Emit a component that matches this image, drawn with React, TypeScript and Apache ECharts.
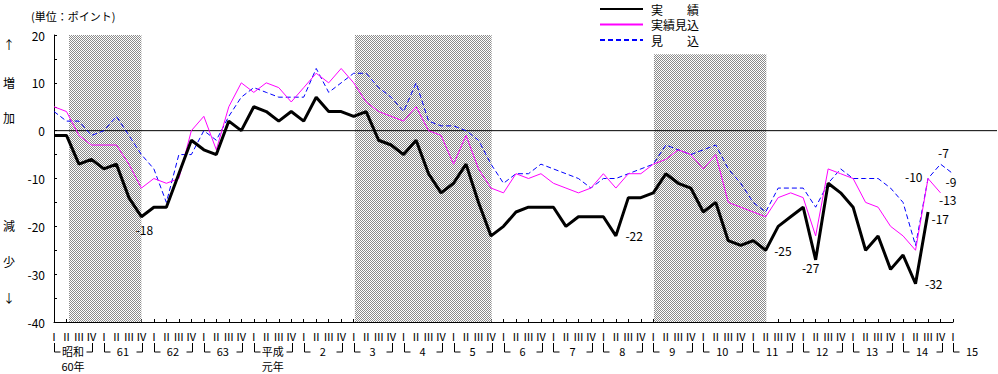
import React, { useEffect, useRef } from 'react';
import * as echarts from 'echarts';

const FONT = '"Noto Sans CJK JP", "Noto Sans", sans-serif';

// Quarter labels and year labels (昭和60年Q1 .. 平成15年Q1)
const QUARTER_LABELS = ['Ⅰ', 'Ⅱ', 'Ⅲ', 'Ⅳ'];
const YEAR_NAMES = ['昭和', '61', '62', '63', '平成', '2', '3', '4', '5', '6', '7', '8', '9', '10', '11', '12', '13', '14', '15'];
const YEAR_SUBS = ['60年', '', '', '', '元年'];
const SERIES_NAMES = ['実　　績', '実績見込', '見　　込'];

// 実績 (index 0 = 昭和60年Ⅰ期)
const ACTUAL = [
  -1, -1, -7, -6, -8, -7, -14, -18,
  -16, -16, -9, -2, -4, -5, 2, 0,
  5, 4, 2, 4, 2, 7, 4, 4,
  3, 4, -2, -3, -5, -2, -9, -13,
  -11, -7, -15, -22, -20, -17, -16, -16,
  -16, -20, -18, -18, -18, -22, -14, -14,
  -13, -9, -11, -12, -17, -15, -23, -24,
  -23, -25, -20, -18, -16, -27, -11, -13,
  -16, -25, -22, -29, -26, -32, -17,
];

// 実績見込
const ESTIMATE = [
  5, 4, -1, -3, -3, -3, -7, -12,
  -10, -11, -10, 0, 3, -4, 5, 10,
  8, 10, 9, 6, 9, 12, 10, 13,
  10, 6, 4, 3, 2, 5, 0, -1,
  -7, -1, -8, -12, -13, -9, -10, -9,
  -11, -12, -13, -12, -9, -12, -9, -9,
  -7, -6, -4, -5, -8, -5, -15, -16,
  -17, -18, -14, -13, -14, -22, -8, -9,
  -10, -15, -16, -20, -22, -25, -10, -13,
];

// 見込
const FORECAST = [
  4, 2, 2, -1, 0, 3, -1, -5,
  -8, -15, -5, -5, 0, -2, 3, 7,
  9, 8, 7, 7, 7, 13, 8, 10,
  12, 12, 9, 7, 4, 10, 2, 1,
  1, 0, -2, -7, -11, -9, -9, -7,
  -8, -9, -10, -12, -10, -10, -9, -8,
  -7, -3, -4, -5, -4, -3, -8, -11,
  -15, -17, -12, -12, -12, -16, -11, -8,
  -10, -10, -10, -12, -15, -24, -10, -7,
  -9,
];

const Y_MIN = -40;
const Y_MAX = 20;
const Y_STEP = 5;
const X_MAX = 72;

// shaded periods: [start index, end index, top value]
const SHADED = [
  [1.2, 7, 20],
  [24.1, 35.05, 20],
  [48.05, 57.05, 16],
];

// labelled points
const ACTUAL_LABELLED = [7, 45, 57, 61, 69, 70];
const ESTIMATE_LABELLED = [71];
const FORECAST_LABELLED = [70, 71, 72];

const ACTUAL_PLACE: Record<number, any> = {
  7: { position: 'bottom', distance: 6, offset: [3, 0] },
  45: { position: 'right', distance: 9 },
  57: { position: 'right', distance: 8 },
  61: { position: 'bottom', distance: 1, offset: [-5, 0] },
  69: { position: 'right', distance: 9 },
  70: { position: 'right', distance: 3, offset: [0, 7] },
};
const ESTIMATE_PLACE: Record<number, any> = {
  71: { position: 'right', distance: -2, offset: [0, 7] },
};
const FORECAST_PLACE: Record<number, any> = {
  70: { position: 'left', distance: 5, offset: [0, -2] },
  71: { position: 'top', distance: 5, offset: [3, 0] },
  72: { position: 'bottom', distance: 1, offset: [-2, 0] },
};

const toPairs = (vals: number[]) => vals.map((v, i) => [i, v]);

const markPoints = (vals: number[], idx: number[], place: Record<number, any>) => ({
  symbol: 'circle',
  symbolSize: 1,
  silent: true,
  itemStyle: { color: 'rgba(0,0,0,0)' },
  label: { show: true, color: '#000', fontSize: 12, fontFamily: FONT },
  data: idx.map((i) => ({
    coord: [i, vals[i]],
    value: vals[i],
    label: { show: true, color: '#000', fontSize: 12, fontFamily: FONT, ...place[i] },
  })),
});

function makeDither(): any {
  try {
    const c = document.createElement('canvas');
    c.width = 2;
    c.height = 2;
    const ctx = c.getContext('2d');
    if (!ctx) return '#c4c4c4';
    ctx.fillStyle = '#ffffff';
    ctx.fillRect(0, 0, 2, 2);
    ctx.fillStyle = '#8a8a8a';
    ctx.fillRect(0, 0, 1, 1);
    ctx.fillRect(1, 1, 1, 1);
    return { image: c, repeat: 'repeat' };
  } catch (e) {
    return '#c4c4c4';
  }
}

export default function App() {
  const ref = useRef<HTMLDivElement>(null);

  useEffect(() => {
    if (!ref.current) return;
    const chart = echarts.init(ref.current, undefined, { renderer: 'svg' });

    const sideLabels = [
      { t: '↑', y: 44 },
      { t: '増', y: 82 },
      { t: '加', y: 117 },
      { t: '減', y: 225 },
      { t: '少', y: 261 },
      { t: '↓', y: 297 },
    ];

    const textGraphics: any[] = [
      {
        type: 'text',
        x: 31,
        y: 16,
        style: { text: '(単位：ポイント)', fontSize: 11, fontFamily: FONT, fill: '#000', align: 'left', verticalAlign: 'middle' },
      },
      ...sideLabels.map((s) => ({
        type: 'text',
        x: 9,
        y: s.y,
        style: { text: s.t, fontSize: 12, fontFamily: FONT, fill: '#000', align: 'center', verticalAlign: 'middle' },
      })),
    ];

    const option: any = {
      animation: false,
      textStyle: { fontFamily: FONT },
      grid: [
        { left: 54, right: 45, top: 35, bottom: 52 },
        { left: 54, right: 1, top: 35, bottom: 52 },
      ],
      xAxis: [
        {
          type: 'value',
          gridIndex: 0,
          min: 0,
          max: X_MAX,
          interval: 1,
          axisLine: { show: true, onZero: false, lineStyle: { color: '#000', width: 1 } },
          axisTick: { show: true, inside: true, length: 3, lineStyle: { color: '#000' } },
          splitLine: { show: false },
          axisLabel: {
            margin: 8,
            fontSize: 11,
            color: '#000',
            fontFamily: FONT,
            formatter: (v: number) => QUARTER_LABELS[Math.round(v) % 4],
          },
        },
        { type: 'value', gridIndex: 1, min: 0, max: 1, show: false },
        {
          type: 'value',
          gridIndex: 0,
          position: 'bottom',
          min: 0,
          max: X_MAX,
          interval: 4,
          axisLine: { show: false, onZero: false },
          axisTick: { show: false },
          splitLine: { show: false },
          axisLabel: {
            margin: 22,
            align: 'left',
            color: '#000',
            formatter: (v: number) => {
              const k = Math.round(v / 4);
              const name = YEAR_NAMES[k];
              if (name === undefined) return '';
              let s = `{m|${name}}`;
              const sub = YEAR_SUBS[k];
              if (sub) s += `\n{s|${sub}}`;
              return s;
            },
            rich: {
              m: { width: 38, align: 'center', fontFamily: FONT, fontSize: 11, lineHeight: 14, color: '#000' },
              s: { width: 38, align: 'center', fontFamily: FONT, fontSize: 11, lineHeight: 16, color: '#000' },
            },
          },
        },
      ],
      yAxis: [
        {
          type: 'value',
          gridIndex: 0,
          min: Y_MIN,
          max: Y_MAX,
          interval: Y_STEP,
          axisLine: { show: true, onZero: false, lineStyle: { color: '#000', width: 1 } },
          axisTick: { show: true, inside: true, length: 3, lineStyle: { color: '#000' } },
          splitLine: { show: false },
          axisLabel: {
            margin: 9,
            fontSize: 12,
            color: '#000',
            fontFamily: FONT,
            formatter: (v: number) => (v % 10 === 0 ? String(v) : ''),
          },
        },
        { type: 'value', gridIndex: 1, min: Y_MIN, max: Y_MAX, show: false },
      ],
      legend: {
        data: SERIES_NAMES,
        orient: 'vertical',
        left: 599,
        top: 3,
        padding: 0,
        itemWidth: 43,
        itemHeight: 14,
        itemGap: 3.5,
        selectedMode: false,
        itemStyle: { opacity: 0 },
        textStyle: { fontSize: 12, color: '#000', fontFamily: FONT, padding: [0, 0, 0, 3] },
      },
      graphic: textGraphics,
      series: [
        {
          name: 'zero',
          type: 'line',
          xAxisIndex: 1,
          yAxisIndex: 1,
          data: [[0, 0], [1, 0]],
          symbol: 'none',
          silent: true,
          z: 2,
          lineStyle: { color: '#000', width: 1 },
        },
        {
          name: SERIES_NAMES[0],
          type: 'line',
          xAxisIndex: 0,
          yAxisIndex: 0,
          data: toPairs(ACTUAL),
          symbol: 'none',
          z: 5,
          lineStyle: { color: '#000', width: 3 },
          itemStyle: { color: '#000' },
          markArea: {
            silent: true,
            itemStyle: { color: makeDither() },
            data: SHADED.map(([a, b, t]) => [{ xAxis: a, yAxis: t }, { xAxis: b, yAxis: Y_MIN }]),
          },
          markPoint: markPoints(ACTUAL, ACTUAL_LABELLED, ACTUAL_PLACE),
        },
        {
          name: SERIES_NAMES[1],
          type: 'line',
          xAxisIndex: 0,
          yAxisIndex: 0,
          data: toPairs(ESTIMATE),
          symbol: 'none',
          z: 4,
          lineStyle: { color: '#ff00ff', width: 1 },
          itemStyle: { color: '#ff00ff' },
          markPoint: markPoints(ESTIMATE, ESTIMATE_LABELLED, ESTIMATE_PLACE),
        },
        {
          name: SERIES_NAMES[2],
          type: 'line',
          xAxisIndex: 0,
          yAxisIndex: 0,
          data: toPairs(FORECAST),
          symbol: 'none',
          z: 3,
          lineStyle: { color: '#0000ff', width: 1, type: [5, 3] },
          itemStyle: { color: '#0000ff' },
          markPoint: markPoints(FORECAST, FORECAST_LABELLED, FORECAST_PLACE),
        },
      ],
    };

    chart.setOption(option);

    // year brackets (└ ... ┘) positioned through the axis scale
    const brackets: any[] = [];
    YEAR_NAMES.forEach((_, k) => {
      const p0 = chart.convertToPixel({ gridIndex: 0 }, [k * 4, Y_MIN]) as number[];
      if (!p0) return;
      const top = p0[1] + 21;
      const bot = p0[1] + 30;
      const l = Math.round(p0[0]) + 0.5;
      brackets.push({
        type: 'polyline',
        silent: true,
        shape: { points: [[l, top], [l, bot], [l + 6, bot]] },
        style: { stroke: '#000', fill: null, lineWidth: 1 },
      });
      if (k < YEAR_NAMES.length - 1) {
        const p3 = chart.convertToPixel({ gridIndex: 0 }, [k * 4 + 3, Y_MIN]) as number[];
        const r = Math.round(p3[0]) + 1.5;
        brackets.push({
          type: 'polyline',
          silent: true,
          shape: { points: [[r - 6, bot], [r, bot], [r, top]] },
          style: { stroke: '#000', fill: null, lineWidth: 1 },
        });
      }
    });
    chart.setOption({ graphic: [...textGraphics, ...brackets] });

    return () => chart.dispose();
  }, []);

  return (
    <div
      ref={ref}
      style={{ position: 'absolute', left: 0, top: 0, width: 998, height: 374, background: '#fff' }}
    />
  );
}
